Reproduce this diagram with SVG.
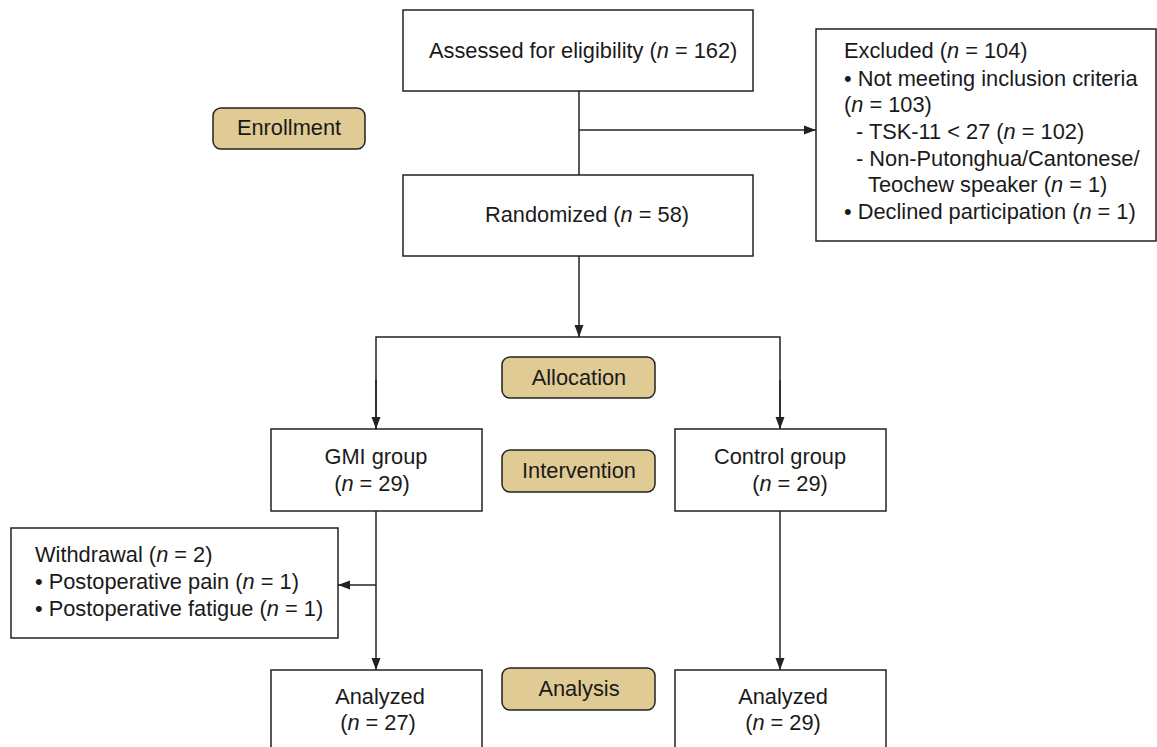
<svg xmlns="http://www.w3.org/2000/svg" width="1157" height="747" viewBox="0 0 1157 747">
<style>
.box{fill:#fff;stroke:#222;stroke-width:1.5}
.pill{fill:#E0CB95;stroke:#222;stroke-width:1.5}
text{font-family:"Liberation Sans",Arial,sans-serif;font-size:21.8px;fill:#1a1a1a}
.c{text-anchor:middle}
.ln{fill:none;stroke:#222;stroke-width:1.5}
</style>
<defs>
<marker id="ah" viewBox="0 0 12 10" refX="12" refY="5" markerWidth="12" markerHeight="10" markerUnits="userSpaceOnUse" orient="auto">
<path d="M0,0.5 L12,5 L0,9.5 Z" fill="#222"/>
</marker>
</defs>
<rect width="1157" height="747" fill="#fff"/>
<g id="connectors">
<path class="ln" d="M579,91 V175"/>
<path class="ln" d="M579,130 H816" marker-end="url(#ah)"/>
<path class="ln" d="M579,256 V337" marker-end="url(#ah)"/>
<path class="ln" d="M376,429 V337 H780 V429" />
<path class="ln" d="M376,380 V429" marker-end="url(#ah)"/>
<path class="ln" d="M780,380 V429" marker-end="url(#ah)"/>
<path class="ln" d="M376,511 V670" marker-end="url(#ah)"/>
<path class="ln" d="M376,585 H338" marker-end="url(#ah)"/>
<path class="ln" d="M780,511 V670" marker-end="url(#ah)"/>
</g>
<g id="assessed">
<rect class="box" x="403" y="10" width="350" height="81"/>
<text x="429" y="58">Assessed for eligibility (<tspan font-style="italic">n</tspan> = 162)</text>
</g>
<g id="excluded">
<rect class="box" x="816" y="29" width="340" height="212"/>
<text x="844" y="58">Excluded (<tspan font-style="italic">n</tspan> = 104)</text>
<text x="844" y="86">• Not meeting inclusion criteria</text>
<text x="844" y="112">(<tspan font-style="italic">n</tspan> = 103)</text>
<text x="856" y="139">- TSK-11 &lt; 27 (<tspan font-style="italic">n</tspan> = 102)</text>
<text x="856" y="166">- Non-Putonghua/Cantonese/</text>
<text x="868" y="192">Teochew speaker (<tspan font-style="italic">n</tspan> = 1)</text>
<text x="844" y="219">• Declined participation (<tspan font-style="italic">n</tspan> = 1)</text>
</g>
<g id="enrollment">
<rect class="pill" x="213" y="108" width="152" height="41" rx="8"/>
<text class="c" x="289" y="135">Enrollment</text>
</g>
<g id="randomized">
<rect class="box" x="403" y="175" width="350" height="81"/>
<text class="c" x="587" y="222">Randomized (<tspan font-style="italic">n</tspan> = 58)</text>
</g>
<g id="allocation">
<rect class="pill" x="502" y="357" width="153" height="41" rx="8"/>
<text class="c" x="579" y="385">Allocation</text>
</g>
<g id="gmi">
<rect class="box" x="271" y="429" width="211" height="82"/>
<text class="c" x="376" y="464">GMI group</text>
<text class="c" x="372" y="491">(<tspan font-style="italic">n</tspan> = 29)</text>
</g>
<g id="intervention">
<rect class="pill" x="502" y="450" width="153" height="42" rx="8"/>
<text class="c" x="579" y="478">Intervention</text>
</g>
<g id="control">
<rect class="box" x="675" y="429" width="211" height="82"/>
<text class="c" x="780" y="464">Control group</text>
<text class="c" x="790" y="491">(<tspan font-style="italic">n</tspan> = 29)</text>
</g>
<g id="withdrawal">
<rect class="box" x="11" y="528" width="327" height="110"/>
<text x="35" y="562">Withdrawal (<tspan font-style="italic">n</tspan> = 2)</text>
<text x="35" y="589">• Postoperative pain (<tspan font-style="italic">n</tspan> = 1)</text>
<text x="35" y="616">• Postoperative fatigue (<tspan font-style="italic">n</tspan> = 1)</text>
</g>
<g id="analysis">
<rect class="pill" x="502" y="668" width="153" height="42" rx="8"/>
<text class="c" x="579" y="696">Analysis</text>
</g>
<g id="analyzed-gmi">
<rect class="box" x="271" y="670" width="211" height="90"/>
<text class="c" x="380" y="704">Analyzed</text>
<text class="c" x="378" y="730">(<tspan font-style="italic">n</tspan> = 27)</text>
</g>
<g id="analyzed-control">
<rect class="box" x="675" y="670" width="211" height="90"/>
<text class="c" x="783" y="704">Analyzed</text>
<text class="c" x="783" y="730">(<tspan font-style="italic">n</tspan> = 29)</text>
</g>
</svg>
